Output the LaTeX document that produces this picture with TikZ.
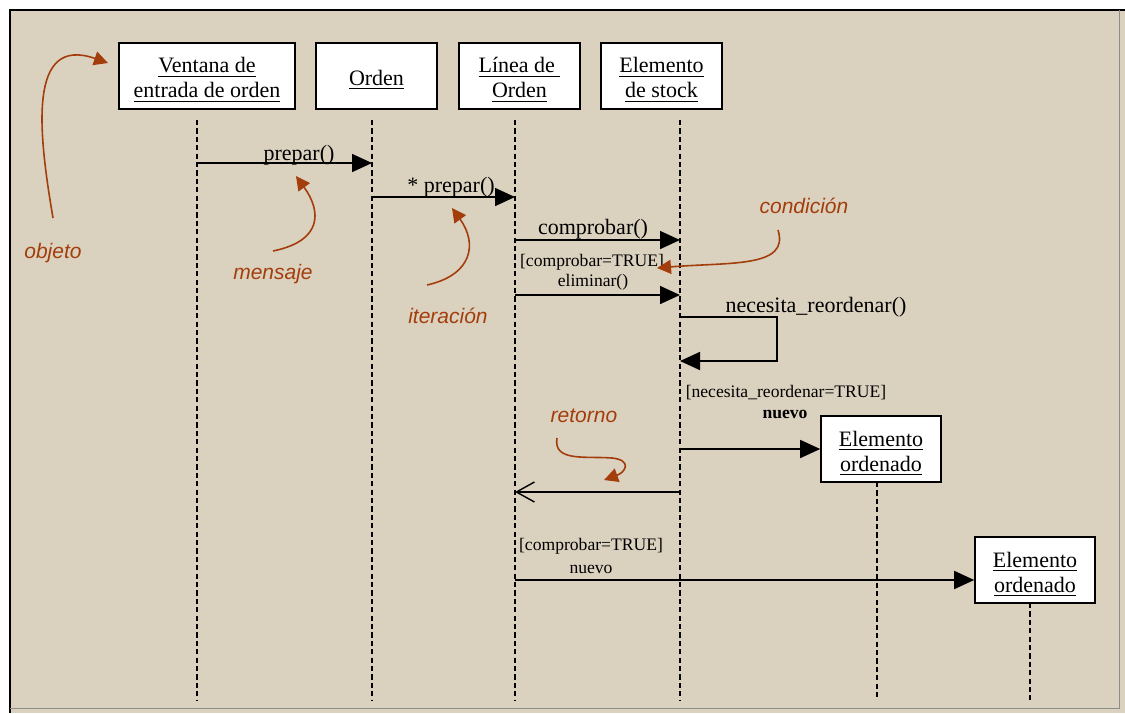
\documentclass[tikz,border=0pt]{standalone}
\usepackage{fontspec}
\setmainfont{Liberation Serif}
\newfontfamily\annfont{Liberation Sans}
\usetikzlibrary{arrows.meta}
\definecolor{bg}{RGB}{219,209,191}
\definecolor{ann}{RGB}{163,62,12}
\newcommand{\bxs}{\rule{0pt}{11.6pt}}
\begin{document}
\begin{tikzpicture}[x=0.5pt,y=-0.5pt,
  obj/.style={draw=black,fill=white,line width=0.8pt,align=center,inner sep=0pt,
    font=\fontsize{11}{12.5}\selectfont,minimum height=33pt},
  lifeline/.style={draw=black,line width=0.7pt,dash pattern=on 2.6pt off 1.6pt},
  msg/.style={draw=black,line width=0.8pt,-{Triangle[length=10pt,width=9pt]}},
  ret/.style={draw=black,line width=0.7pt,-{Straight Barb[length=9pt,width=10pt,line width=0.7pt]}},
  lbl/.style={font=\fontsize{11}{13}\selectfont,inner sep=0pt,anchor=base},
  slbl/.style={font=\fontsize{8.8}{10}\selectfont,inner sep=0pt,anchor=base},
  annot/.style={font=\annfont\itshape\fontsize{10.5}{12}\selectfont,text=ann,inner sep=0pt,anchor=base},
  annarrow/.style={draw=ann,line width=0.8pt,-{Triangle[length=7pt,width=7pt]}}]
\useasboundingbox (0,0) rectangle (1125,713);
\fill[white] (0,0) rectangle (1125,713);
\fill[bg] (10,10) rectangle (1125,713);
\draw[black,line width=1pt] (10,713) -- (10,10) -- (1125,10);
\draw[black!45,line width=0.5pt] (10,708) -- (1119,708) -- (1119,10);

% objects
\node[obj,minimum width=88pt] (vw) at (207,76) {\bxs\underline{Ventana de}\\\underline{entrada de orden}};
\node[obj,minimum width=60.5pt] (or) at (376.5,76) {\bxs\underline{Orden}};
\node[obj,minimum width=60.5pt] (lo) at (519.5,76) {\bxs\underline{Línea de }\\\underline{Orden}};
\node[obj,minimum width=60.5pt] (es) at (661.5,76) {\bxs\underline{Elemento}\\\underline{de stock}};
\node[obj,minimum width=60pt] (eo1) at (881,449) {\bxs\underline{Elemento}\\\underline{ordenado}};
\node[obj,minimum width=60pt] (eo2) at (1035,570) {\bxs\underline{Elemento}\\\underline{ordenado}};

% lifelines
\coordinate (L1) at (197,120); \coordinate (L1e) at (197,700);
\coordinate (L2) at (372,120); \coordinate (L2e) at (372,700);
\coordinate (L3) at (515,120); \coordinate (L3e) at (515,700);
\coordinate (L4) at (680,120); \coordinate (L4e) at (680,700);
\coordinate (L5) at (877,482); \coordinate (L5e) at (877,700);
\coordinate (L6) at (1030,603); \coordinate (L6e) at (1030,700);
\foreach \a/\b in {L1/L1e,L2/L2e,L3/L3e,L4/L4e,L5/L5e,L6/L6e}
  \draw[lifeline] (\a) -- (\b);

% messages
\draw[msg] (L1 |- 0,163) -- (L2 |- 0,163);
\node[lbl] (m1) at (299,160) {prepar()};
\draw[msg] (L2 |- 0,197) -- (L3 |- 0,197);
\node[lbl] (m2) at (451,192) {* prepar()};
\draw[msg] (L3 |- 0,240) -- (L4 |- 0,240);
\node[lbl] (m3) at (593,234) {comprobar()};
\node[slbl] (g1) at (592,266) {[comprobar=TRUE]};
\node[slbl] (m4) at (593,286) {eliminar()};
\draw[msg] (L3 |- 0,295) -- (L4 |- 0,295);
\coordinate (sr) at (777,317);
\draw[msg] (L4 |- 0,317) -- (sr) -- (sr |- 0,361) -- (L4 |- 0,361);
\node[lbl] (m5) at (816,312) {necesita\_reordenar()};
\node[slbl] (g2) at (786,397) {[necesita\_reordenar=TRUE]};
\node[slbl,font=\bfseries\fontsize{8.8}{10}\selectfont] (n1) at (785,418) {nuevo};
\draw[msg] (L4 |- 0,449) -- (eo1.west);
\draw[ret] (L4 |- 0,492) -- (L3 |- 0,492);
\node[slbl] (g3) at (591,550) {[comprobar=TRUE]};
\node[slbl] (n2) at (591,573) {nuevo};
\draw[msg] (L3 |- 0,580) -- (eo2.west |- 0,580);

% annotations
\node[annot] (a1) at (53,258) {objeto};
\draw[annarrow] (53,218) .. controls (38,130) and (28,35) .. (108,63);
\node[annot] (a2) at (273,279) {mensaje};
\draw[annarrow] (273,251) .. controls (322,241) and (322,212) .. (296,176);
\node[annot] (a3) at (448,323) {iteración};
\draw[annarrow] (427,285) .. controls (472,275) and (478,244) .. (452,208);
\node[annot] (a4) at (804,213) {condición};
\draw[annarrow] (778,230) .. controls (790,268) and (730,262) .. (657,268);
\node[annot] (a5) at (584,422) {retorno};
\draw[annarrow] (557,438) .. controls (553,462) and (585,456) .. (612,458) .. controls (632,460) and (626,472) .. (604,480);
\end{tikzpicture}
\end{document}
